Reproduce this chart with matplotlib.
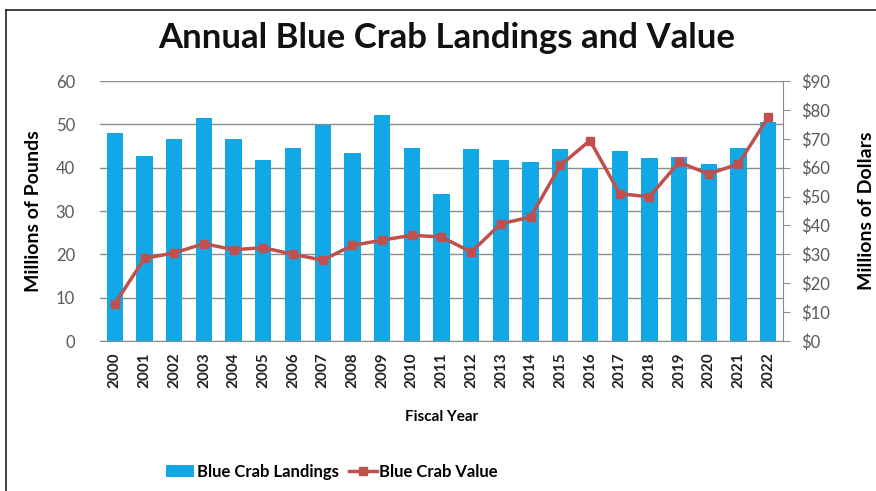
import matplotlib
matplotlib.use("Agg")
import matplotlib.pyplot as plt
from matplotlib.lines import Line2D
from matplotlib.ticker import FuncFormatter, MultipleLocator

years = [str(y) for y in range(2000, 2023)]
landings = [47.9, 42.8, 46.6, 51.5, 46.6, 41.8, 44.5, 49.8, 43.5, 52.1, 44.6, 33.9,
            44.4, 41.7, 41.3, 44.3, 40.0, 43.9, 42.2, 42.5, 40.9, 44.5, 50.6]
value = [12.9, 28.6, 30.5, 33.7, 31.6, 32.3, 30.0, 28.0, 33.1, 34.9, 36.6, 36.0,
         30.8, 40.6, 42.9, 60.8, 69.4, 51.0, 49.9, 61.9, 57.8, 61.3, 77.4]

plt.rcParams['font.family'] = ['Lato', 'DejaVu Sans']

fig = plt.figure(figsize=(8.76, 4.91), dpi=100)
ax = fig.add_axes([100/876, 1-341/491, 683/876, 260/491])
ax2 = ax.twinx()

x = list(range(len(years)))
bar_color = '#12A8E6'
line_color = '#C0504D'
grid_color = '#8C8C8C'
tick_color = '#595959'

ax.bar(x, landings, width=0.55, color=bar_color, zorder=2, label='Blue Crab Landings')
ax2.plot(x, value, color=line_color, lw=2.5, marker='s', ms=6, zorder=3, label='Blue Crab Value')

ax.set_xlim(-0.5, len(years) - 0.5)
ax.set_ylim(0, 60)
ax.yaxis.set_major_locator(MultipleLocator(10))
ax2.set_ylim(0, 90)
ax2.yaxis.set_major_locator(MultipleLocator(10))
ax2.yaxis.set_major_formatter(FuncFormatter(lambda v, p: f"${v:.0f}"))

ax.grid(axis='y', color=grid_color, lw=1.0, zorder=0)
ax.set_axisbelow(True)
for s in ['top', 'left', 'right']:
    ax.spines[s].set_visible(False)
for s in ['top', 'left', 'bottom']:
    ax2.spines[s].set_visible(False)
ax.spines['bottom'].set_color(grid_color)
ax2.spines['right'].set_color(grid_color)

ax.set_xticks(x)
ax.set_xticklabels(years, rotation=90, fontsize=11, fontweight='bold', color='#222222')
ax.tick_params(axis='x', length=0, pad=8)
ax.tick_params(axis='y', length=0, labelsize=12, labelcolor=tick_color, pad=18)
ax2.tick_params(axis='y', length=5, color=grid_color, labelsize=12, labelcolor=tick_color, pad=8)

ax.set_ylabel('Millions of Pounds', fontsize=14, fontweight='bold', labelpad=10)
ax2.set_ylabel('Millions of Dollars', fontsize=14, fontweight='bold', labelpad=20)
ax.set_xlabel('Fiscal Year', fontsize=11, fontweight='bold', labelpad=16)

fig.text(447/876, 1-38/491, 'Annual Blue Crab Landings and Value', ha='center', va='center',
         fontsize=25, fontweight='bold', color='#111111')

h1, l1 = ax.get_legend_handles_labels()
h2, l2 = ax2.get_legend_handles_labels()
fig.legend(h1 + h2, l1 + l2, loc='center', bbox_to_anchor=(332/876, 1-472/491), ncol=2,
           frameon=False, prop={'size': 12, 'weight': 'bold'}, handlelength=1.7,
           columnspacing=0.6, handletextpad=0.15)

fig.add_artist(Line2D([6/876, 6/876], [0, 1-10/491], color='#222222', lw=1.2))
fig.add_artist(Line2D([6/876, 1], [1-10/491, 1-10/491], color='#222222', lw=1.2))

fig.savefig('out.png', dpi=100)
